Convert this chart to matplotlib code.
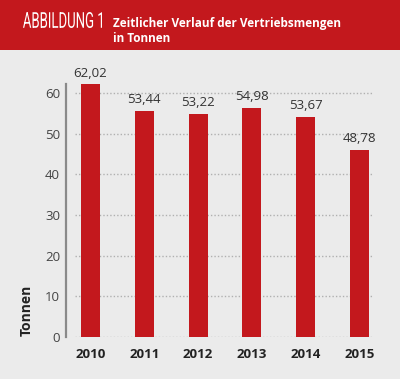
import matplotlib
matplotlib.use("Agg")
import matplotlib.pyplot as plt
from matplotlib.patches import Rectangle, PathPatch
from matplotlib.textpath import TextPath
from matplotlib.font_manager import FontProperties
from matplotlib.transforms import Affine2D

# data
years = ["2010", "2011", "2012", "2013", "2014", "2015"]
bar_heights = [62.2, 55.6, 55.0, 56.3, 54.1, 46.0]
value_labels = ["62,02", "53,44", "53,22", "54,98", "53,67", "48,78"]
y_ticks = [0, 10, 20, 30, 40, 50, 60]

red = "#c3181d"
bg = "#ebebeb"
W, H = 400, 379

fig = plt.figure(figsize=(4.0, 3.79), dpi=100, facecolor=bg)

# red header band
fig.patches.append(Rectangle((0, 1 - 50 / H), 1, 50 / H, transform=fig.transFigure,
                             facecolor=red, edgecolor="none", zorder=0))

# condensed "ABBILDUNG 1": squeeze a normal font horizontally
tp = TextPath((0, 0), "ABBILDUNG 1", size=22, prop=FontProperties(family="Roboto", weight="normal"))
ext = tp.get_extents()
sx = 79 / ext.width
sy = 16 / ext.height
fig.patches.append(PathPatch(tp, transform=Affine2D().translate(-ext.x0, -ext.y0).scale(sx, sy).translate(23, H - 28),
                             facecolor="white", edgecolor="none", zorder=1))

fig.text(113 / W, 1 - 23 / H, "Zeitlicher Verlauf der Vertriebsmengen", color="white",
         fontsize=8.5, family="Open Sans", weight="bold", va="center", ha="left")
fig.text(113 / W, 1 - 38 / H, "in Tonnen", color="white",
         fontsize=8.5, family="Open Sans", weight="bold", va="center", ha="left")

ax = fig.add_axes([65.7 / W, 42.3 / H, 310 / W, 252.3 / H])
ax.set_facecolor(bg)
x = list(range(len(years)))
ax.set_xlim(-0.46, 5.3)
ax.set_ylim(0, 62.2)

ax.hlines(y_ticks, -0.29, 5.25, colors="#b0b0b0", linestyles=(0, (1, 1.5)), linewidth=1, zorder=1)
bars = ax.bar(x, bar_heights, width=0.35, color=red, zorder=2)
for b, lab in zip(bars, value_labels):
    ax.text(b.get_x() + b.get_width() / 2, b.get_height() + 1.2, lab, ha="center", va="bottom",
            fontsize=9.5, family="Open Sans", color="#333333", clip_on=False)

for s in ["top", "right", "bottom"]:
    ax.spines[s].set_visible(False)
ax.spines["left"].set_color("#8a8a8a")
ax.spines["left"].set_linewidth(1.6)

ax.set_yticks(y_ticks)
ax.set_yticklabels([str(t) for t in y_ticks], family="Open Sans", fontsize=9.5, color="#444444")
ax.set_xticks(x)
ax.set_xticklabels(years, family="Open Sans", fontsize=9.5, weight="bold", color="#222222")
ax.tick_params(axis="both", length=0)
ax.tick_params(axis="y", pad=4)
ax.tick_params(axis="x", pad=8)

fig.text(27 / W, 1 - 310 / H, "Tonnen", rotation=90, ha="center", va="center",
         fontsize=10, family="Open Sans", weight="bold", color="#222222")

fig.savefig("out.png", dpi=100, facecolor=bg)
